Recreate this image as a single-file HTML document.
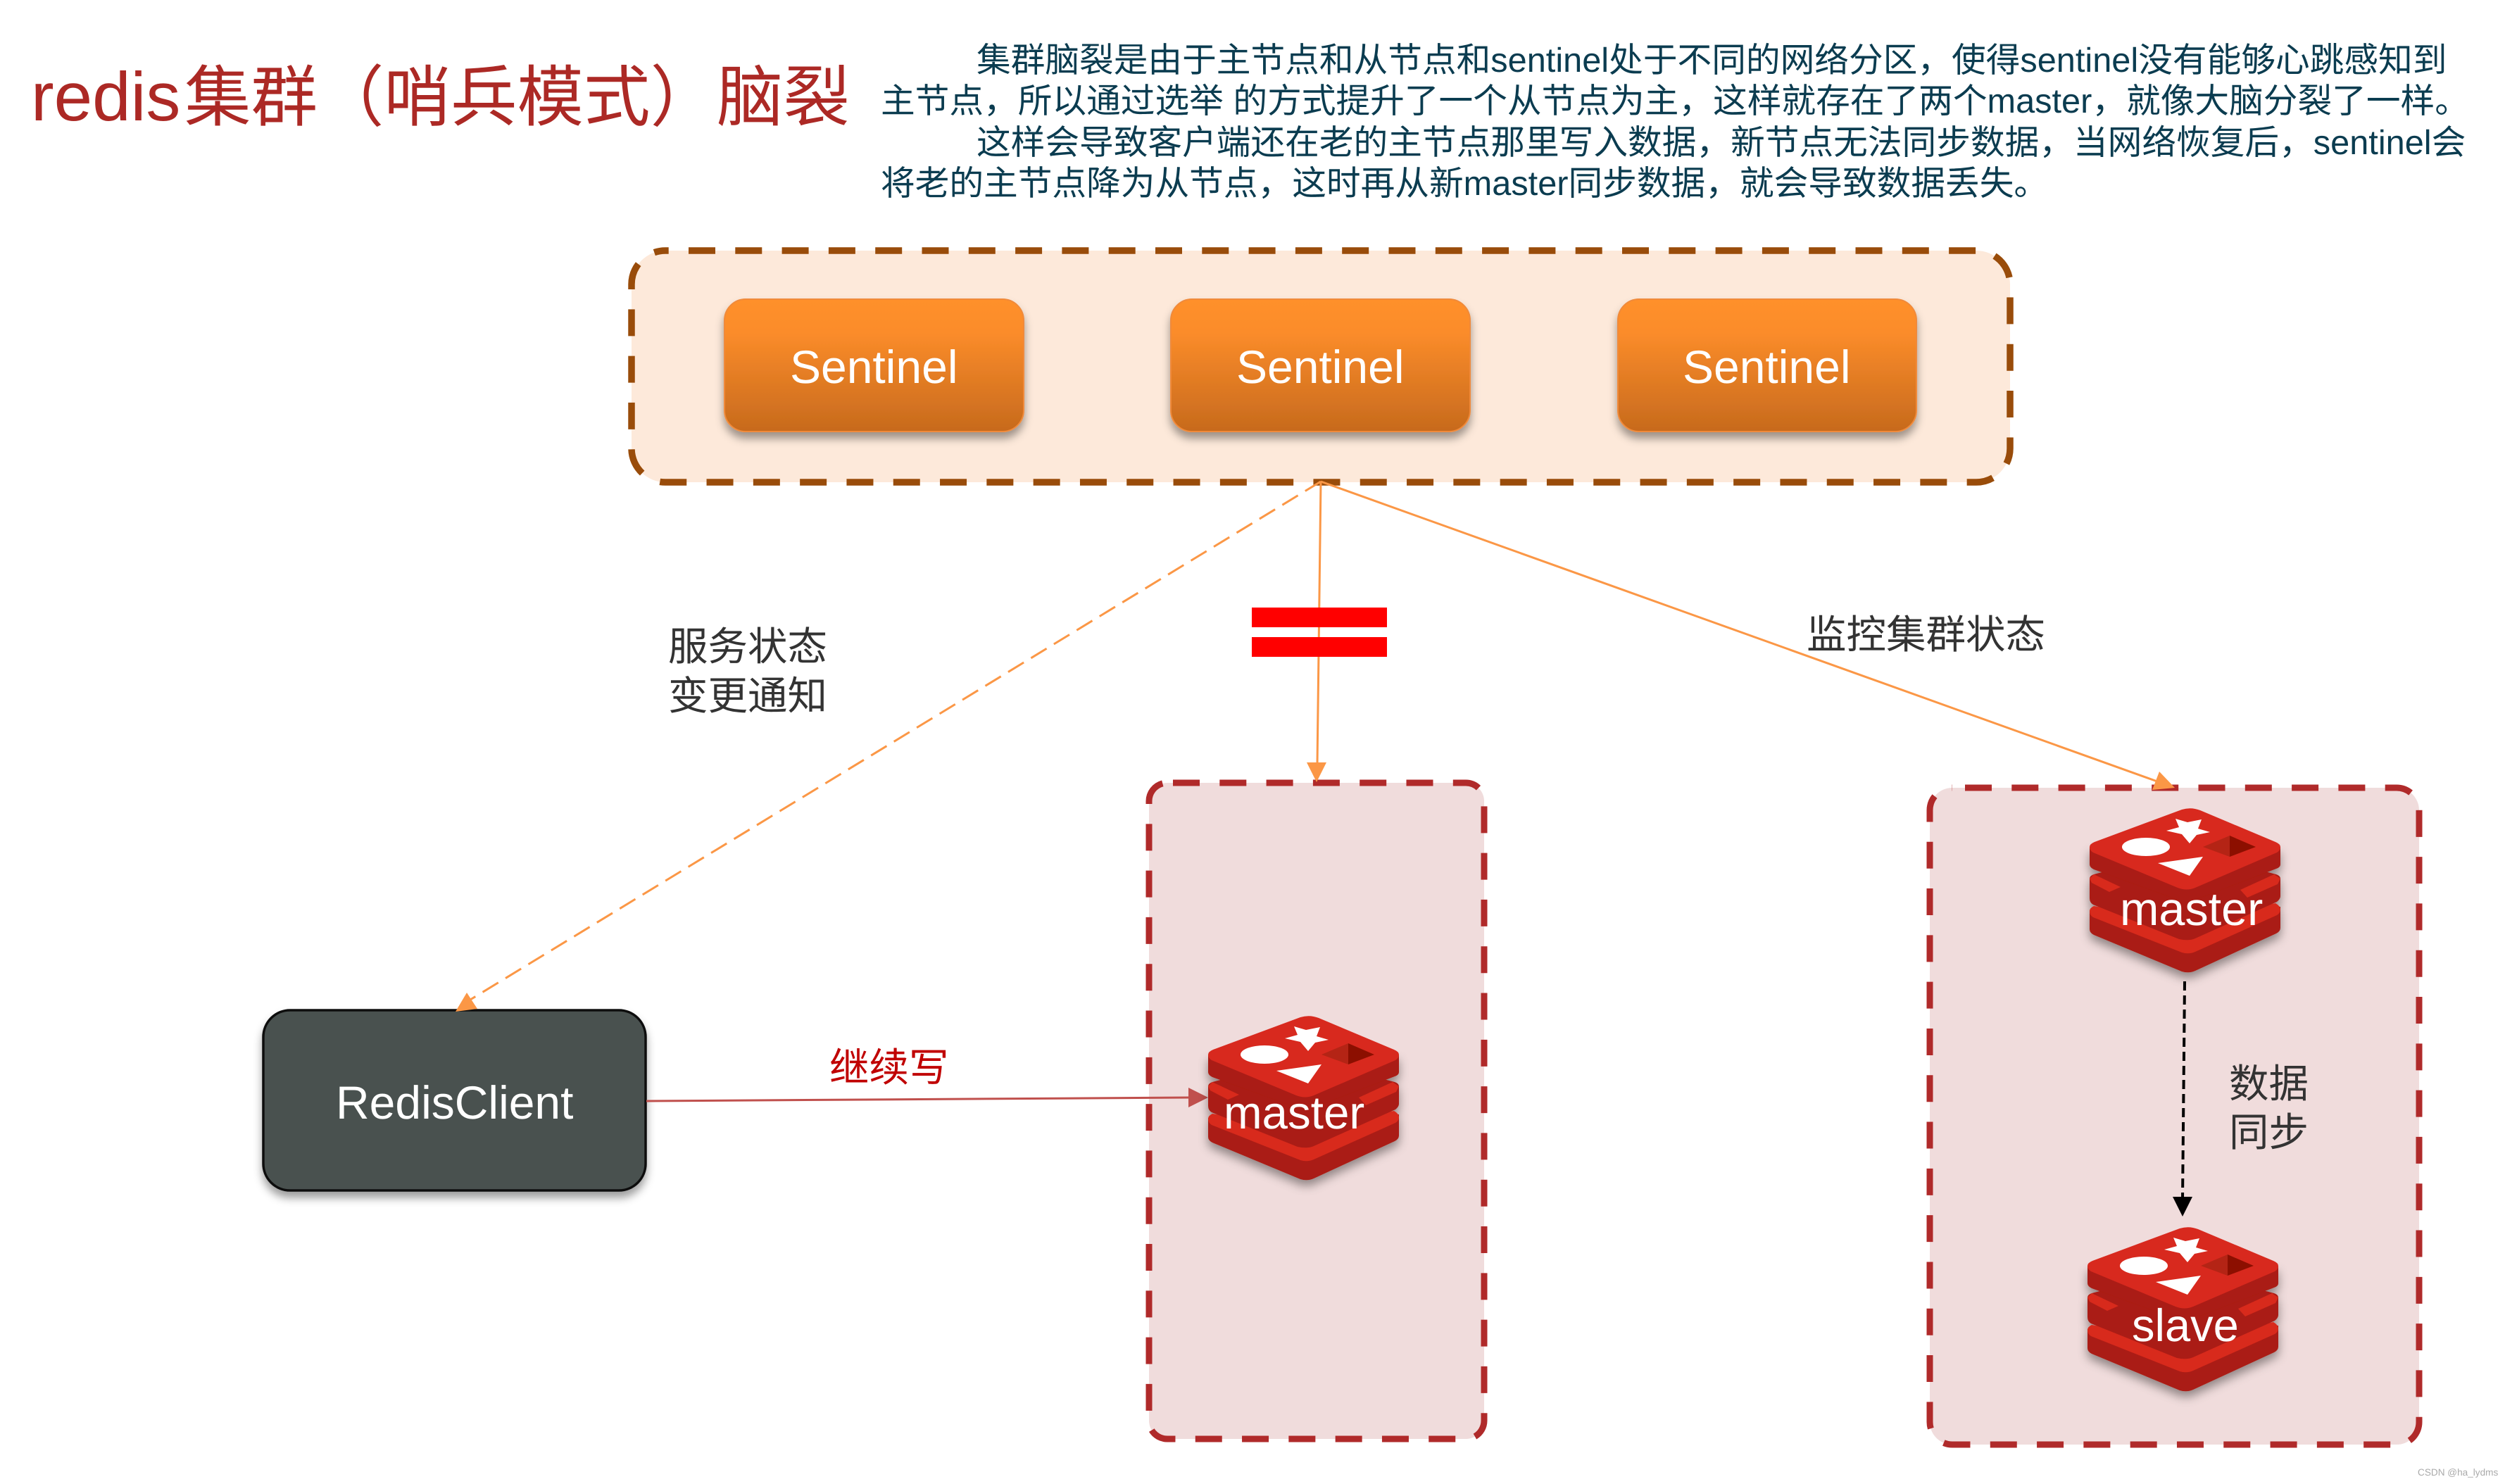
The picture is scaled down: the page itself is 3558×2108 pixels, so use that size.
<!DOCTYPE html>
<html>
<head>
<meta charset="utf-8">
<style>
html,body{margin:0;padding:0;background:#fff;width:3558px;height:2108px;overflow:hidden}
svg{display:block}
text{font-family:"Liberation Sans","Noto Sans CJK SC",sans-serif;text-rendering:geometricPrecision}
</style>
</head>
<body>
<svg xmlns="http://www.w3.org/2000/svg" width="3558" height="2108" viewBox="0 0 3558 2108">
<defs>
<linearGradient id="og" x1="0" y1="0" x2="0" y2="1">
<stop offset="0" stop-color="#ff902a"/><stop offset="0.25" stop-color="#fb8c2a"/><stop offset="1" stop-color="#c76a1d"/>
</linearGradient>
<filter id="sh" x="-10%" y="-10%" width="120%" height="130%">
<feDropShadow dx="0" dy="9" stdDeviation="6" flood-color="#000" flood-opacity="0.38"/>
</filter>
<filter id="lsh" x="-10%" y="-10%" width="120%" height="125%">
<feDropShadow dx="0" dy="8" stdDeviation="7" flood-color="#000" flood-opacity="0.4"/>
</filter>
<g id="logo">
<g filter="url(#lsh)">
<path d="M0,145 L271,140 L271,170 Q271,175 265,178 L150,231 Q141,235 131,232 L6,180 Q0,177 0,172 Z" fill="#aa1e12"/>
<path d="M0,146 Q0,142 6,139 L134,160 L264,135 Q271,139 271,144 Q271,149 266,152 L150,204 Q141,208 131,205 L5,155 Q0,152 0,146 Z" fill="#d8291e"/>
<path d="M0,100 Q0,96 6,94 L135,60 L265,94 Q271,96 271,100 L271,125 Q271,129 266,133 L150,185 Q141,189 127,186 L5,137 Q0,134 0,128 Z" fill="#aa1e12"/>
<path d="M0,100 L6,94 L44,112 L28,119 L3,106 Z" fill="#d8291e"/>
<path d="M271,100 L262,94 L214,116 L224,127 L267,108 Z" fill="#d8291e"/>
<path d="M0,55 L0,80 Q0,84 6,87 L125,130 L150,130 L265,86 Q271,84 271,80 L271,55 Z" fill="#aa1e12"/>
</g>
<path d="M0,55 Q0,51 7,48 L131,2 Q144,-2 157,3 L264,48 Q271,51 271,55 Q271,60 266,63 L150,113 Q138,118 125,113 L5,63 Q0,60 0,55 Z" fill="#d8291e"/>
<ellipse cx="80" cy="55" rx="34" ry="13" fill="#fff"/>
<path d="M122,15 L139,20 L159,16 L154,29 L171,34 L152,38 L142,50 L131,37 L109,32 L127,27 Z" fill="#fff"/>
<path d="M97,78 L161,69 L142,96 Z" fill="#fff"/>
<path d="M161,55 L199,39 L199,69 Z" fill="#b42415"/>
<path d="M199,39 L236,55 L199,69 Z" fill="#8c0f00"/>
</g>
</defs>

<!-- Title -->
<g fill="#ac2925">
<text x="44" y="171" font-size="98">redis</text>
<text x="262" y="171" font-size="94.5">集群（哨兵模式）脑裂</text>
</g>

<!-- Description -->
<g font-size="48.7" fill="#0b3c50">
<text x="1387" y="102">集群脑裂是由于主节点和从节点和sentinel处于不同的网络分区，使得sentinel没有能够心跳感知到</text>
<text x="1251" y="160">主节点，所以通过选举 的方式提升了一个从节点为主，这样就存在了两个master，就像大脑分裂了一样。</text>
<text x="1387" y="219">这样会导致客户端还在老的主节点那里写入数据，新节点无法同步数据，当网络恢复后，sentinel会</text>
<text x="1251" y="277">将老的主节点降为从节点，这时再从新master同步数据，就会导致数据丢失。</text>
</g>

<!-- Sentinel container -->
<rect x="897" y="356" width="1958" height="329" rx="48" ry="48" fill="#fde9da" stroke="none"/>
<rect x="897" y="356" width="1958" height="329" rx="48" ry="48" fill="none" stroke="#994c0a" stroke-width="9.5" stroke-dasharray="38 28.3" stroke-dashoffset="-33"/>

<rect x="1029" y="425" width="425" height="188" rx="30" fill="url(#og)" stroke="#f08a3a" stroke-width="2" filter="url(#sh)"/>
<rect x="1663" y="425" width="425" height="188" rx="30" fill="url(#og)" stroke="#f08a3a" stroke-width="2" filter="url(#sh)"/>
<rect x="2298" y="425" width="424" height="188" rx="30" fill="url(#og)" stroke="#f08a3a" stroke-width="2" filter="url(#sh)"/>
<g font-size="66" fill="#fff">
<text x="1122" y="544">Sentinel</text>
<text x="1756" y="544">Sentinel</text>
<text x="2390" y="544">Sentinel</text>
</g>

<!-- Master box -->
<rect x="1632" y="1112" width="476" height="932" rx="26" fill="#f0dcdc"/>
<rect x="1632" y="1112" width="476" height="932" rx="26" fill="none" stroke="#b02a2a" stroke-width="9" stroke-dasharray="38 28.3" stroke-dashoffset="-8"/>

<!-- Right box -->
<rect x="2741" y="1119" width="695" height="933" rx="32" fill="#f0dcdc"/>
<rect x="2741" y="1119" width="695" height="933" rx="32" fill="none" stroke="#b02a2a" stroke-width="9" stroke-dasharray="38 28.3" stroke-dashoffset="-18"/>

<!-- Client -->
<rect x="374" y="1435" width="543" height="256" rx="38" fill="#4a5150" stroke="#111" stroke-width="3.5" filter="url(#sh)"/>
<text x="477" y="1589" font-size="66" fill="#fff">RedisClient</text>

<!-- Connectors -->
<g stroke="#fb9746" stroke-width="3" fill="none">
<line x1="1876" y1="684" x2="1871" y2="1086"/>
<line x1="1876" y1="684" x2="3064" y2="1110"/>
<line x1="1876" y1="684" x2="668" y2="1420" stroke-dasharray="26 12"/>
</g>
<polygon points="1870,1111 1856,1083 1884,1083" fill="#fb9746"/>
<polygon points="3089,1119 3057,1122 3067,1096" fill="#fb9746"/>
<polygon points="647,1437 663,1410 678,1433" fill="#fb9746"/>

<line x1="918" y1="1564" x2="1690" y2="1559" stroke="#c0504d" stroke-width="3"/>
<polygon points="1716,1559 1688,1545 1688,1573" fill="#c0504d"/>

<!-- Equal bars -->
<rect x="1778" y="863" width="192" height="28" fill="#ff0000"/>
<rect x="1778" y="905" width="192" height="28" fill="#ff0000"/>

<!-- Labels -->
<g font-size="56.5" fill="#333">
<text x="949" y="938">服务状态</text>
<text x="949" y="1008">变更通知</text>
<text x="2566" y="921">监控集群状态</text>
<text x="3166" y="1559">数据</text>
<text x="3166" y="1628">同步</text>
</g>
<text x="1178" y="1536" font-size="56.5" fill="#c00000">继续写</text>

<!-- Logos -->
<use href="#logo" transform="translate(1716,1443)"/>
<use href="#logo" transform="translate(2968,1148)"/>
<use href="#logo" transform="translate(2965,1743)"/>
<g fill="#fff">
<text x="1738" y="1603" font-size="65.5">master</text>
<text x="3011" y="1314" font-size="66.5">master</text>
<text x="3028" y="1905" font-size="65">slave</text>
</g>

<!-- Sync arrow -->
<line x1="3103" y1="1394" x2="3100" y2="1704" stroke="#000" stroke-width="4" stroke-dasharray="13 7"/>
<polygon points="3100,1728 3086,1700 3114,1700" fill="#000"/>

<!-- Watermark -->
<text x="3434" y="2096" font-size="13.6" fill="#aaa">CSDN @ha_lydms</text>
</svg>
</body>
</html>
